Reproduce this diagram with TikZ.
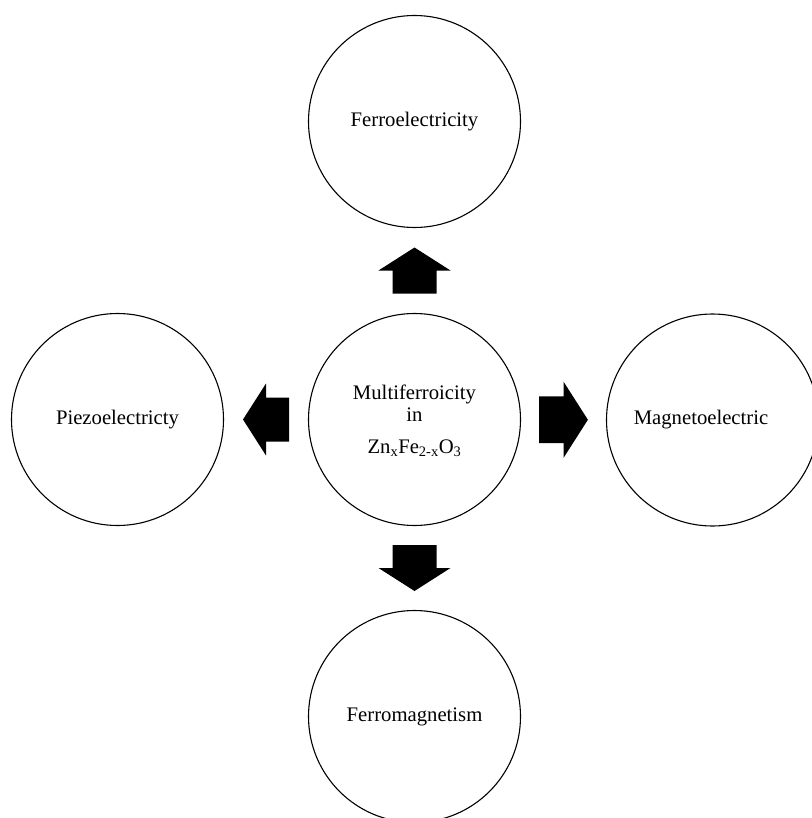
\documentclass[tikz,border=0pt]{standalone}
\usepackage{fontspec}
\setmainfont{Liberation Serif}
\usetikzlibrary{calc}
\begin{document}
\begin{tikzpicture}[x=1pt,y=-1pt,
  ring/.style={circle,draw,line width=1.1pt,minimum size=212pt,inner sep=0pt,
    font=\fontsize{20.7}{24}\selectfont},
  lbl/.style={inner sep=0pt,anchor=base,font=\fontsize{20.7}{24}\selectfont},
  blockarrow/.pic={\fill[black] (-23,-22) -- (0,-22) -- (0,-36) -- (23,0) -- (0,36) -- (0,22) -- (-23,22) -- cycle;}]
\useasboundingbox (0,0) rectangle (811,818);
\node[ring] (c) at (414.5,419.5) {};
\node[ring] (t) at (414.5,121.5) {Ferroelectricity};
\node[ring] (l) at (117.5,419.5) {Piezoelectricty};
\node[ring] (r) at (712.5,420) {Magnetoelectric\hspace*{23pt}};
\node[ring] (b) at (414.5,716.5) {Ferromagnetism};
\node[lbl] (c1) at (414.5,399) {Multiferroicity};
\node[lbl] (c2) at (414.5,421) {in};
\node[lbl] (c3) at (414.5,453) {Zn\textsubscript{x}Fe\textsubscript{2-x}O\textsubscript{3}};
\pic[rotate=90] at ($(c.north)!0.5!(t.south)$) {blockarrow};
\pic[rotate=-90] at ($(c.south)!0.5!(b.north)$) {blockarrow};
\pic[rotate=180] at ($(c.west)!0.5!(l.east)$) {blockarrow};
\pic[scale=1.06] at ($(c.east)!0.5!(r.west)$) {blockarrow};
\end{tikzpicture}
\end{document}
